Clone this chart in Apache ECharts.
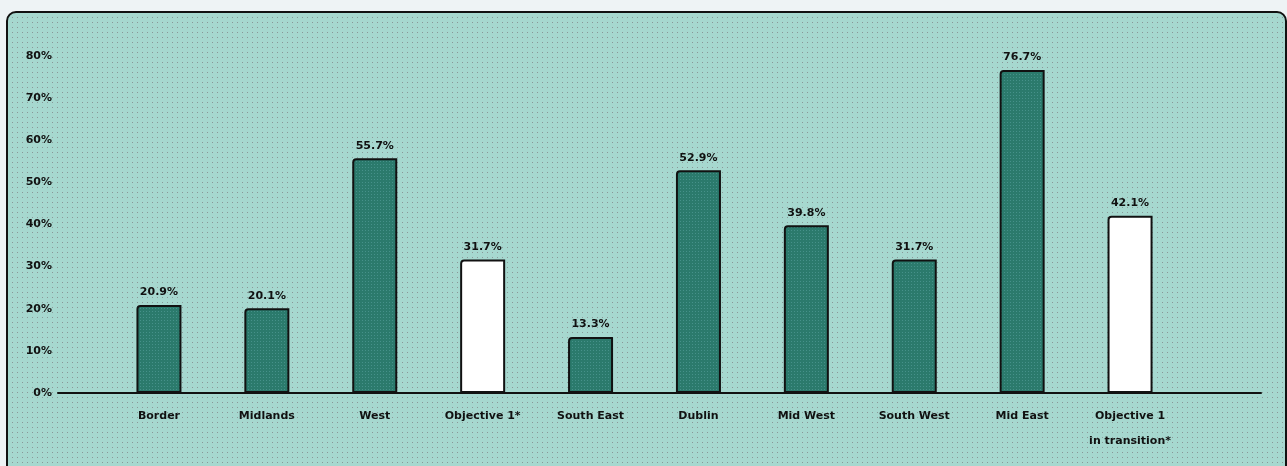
<!DOCTYPE html>
<html>
<head>
<meta charset="utf-8">
<script src="https://cdn.jsdelivr.net/npm/echarts@6/dist/echarts.min.js"></script>
<style>
  html, body { margin: 0; padding: 0; background: #eef3f5; }
  #main { width: 1287px; height: 466px; }
</style>
</head>
<body>
<div id="main"></div>
<script>
const categories = ['Border', 'Midlands', 'West', 'Objective 1*', 'South East', 'Dublin',
  'Mid West', 'South West', 'Mid East', 'Objective 1\nin transition*'];
const values = [20.9, 20.1, 55.7, 31.7, 13.3, 52.9, 39.8, 31.7, 76.7, 42.1];
const highlighted = [false, false, false, true, false, false, false, false, false, true];

// small dotted fills, like the old gif
function dots(bg, dot, size) {
  const c = document.createElement('canvas');
  c.width = size; c.height = size;
  const ctx = c.getContext('2d');
  ctx.fillStyle = bg;
  ctx.fillRect(0, 0, size, size);
  ctx.fillStyle = dot;
  ctx.fillRect(2, 2, 1, 1);
  return c;
}

const bgPattern = { image: dots('#a6d8cf', '#8a9798', 5), repeat: 'repeat' };
const barPattern = { image: dots('#2b7a6c', '#46918a', 3), repeat: 'repeat' };

const myChart = echarts.init(document.getElementById('main'));

const font = { fontFamily: 'DejaVu Sans', fontWeight: 'bold', fontSize: 11, color: '#111' };

const option = {
  animation: false,
  graphic: [
    {
      type: 'rect',
      z: -10,
      silent: true,
      shape: { x: 7, y: 12, width: 1279, height: 470, r: [9, 9, 0, 0] },
      style: { fill: bgPattern, stroke: '#111', lineWidth: 2 },
    },
  ],
  grid: [
    { left: 58, right: 26, top: 56, bottom: 73 },
    { left: 105, right: 103, top: 56, bottom: 73 },
  ],
  xAxis: [
    {
      type: 'value',
      gridIndex: 0,
      axisLine: { show: true, onZero: false, lineStyle: { color: '#111', width: 2 } },
      axisTick: { show: false },
      axisLabel: { show: false },
      splitLine: { show: false },
    },
    {
      type: 'category',
      gridIndex: 1,
      data: categories,
      axisLine: { show: false },
      axisTick: { show: false },
      axisLabel: { ...font, margin: 11, lineHeight: 25, interval: 0 },
    },
  ],
  yAxis: [
    {
      type: 'value',
      gridIndex: 0,
      min: 0,
      max: 80,
      interval: 10,
      axisLine: { show: false },
      axisTick: { show: false },
      splitLine: { show: false },
      axisLabel: { ...font, margin: 6, formatter: '{value}%' },
    },
    {
      type: 'value',
      gridIndex: 1,
      min: 0,
      max: 80,
      interval: 10,
      show: false,
    },
  ],
  series: [
    {
      type: 'bar',
      xAxisIndex: 1,
      yAxisIndex: 1,
      barWidth: 45,
      data: values.map((v, i) => ({
        value: v,
        itemStyle: { color: highlighted[i] ? '#ffffff' : barPattern },
      })),
      itemStyle: { borderColor: '#111', borderWidth: 2, borderRadius: [3, 0, 0, 0] },
      label: {
        show: true,
        position: 'top',
        distance: 7,
        ...font,
        formatter: (p) => p.value.toFixed(1) + '%',
      },
    },
  ],
};

myChart.setOption(option);
</script>
</body>
</html>
